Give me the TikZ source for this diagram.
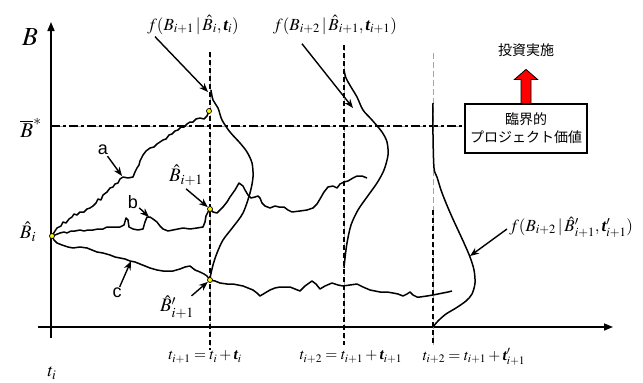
\documentclass[tikz,border=0pt]{standalone}
\usepackage{amsmath}
\usepackage{mathptmx}
\usepackage{fontspec}
\newfontfamily\jpfont{Noto Sans CJK JP}
\newfontfamily\arialfont{Liberation Sans}
\newfontfamily\timesfont{Liberation Serif}
\usetikzlibrary{arrows.meta}
\usetikzlibrary{calc}
\usetikzlibrary{positioning}

% bold "t" as printed for the time step
\newcommand{\taut}{\text{\timesfont\bfseries\itshape t}}

\tikzset{
  axis/.style={line width=1.6pt},
  walk/.style={line width=1.5pt, line join=round},
  dens/.style={line width=1.5pt, line join=round},
  pointer/.style={line width=1.4pt, -{Stealth[length=9pt,width=7pt]}},
  mlabel/.style={font=\fontsize{17}{19}\selectfont, inner sep=1pt},
  tlabel/.style={font=\fontsize{15.5}{17}\selectfont, inner sep=1pt},
  letter/.style={font=\arialfont\fontsize{18}{20}\selectfont, inner sep=1pt},
  jtext/.style={font=\jpfont\fontsize{14}{18}\selectfont},
  tline/.style={line width=2.6pt, dash pattern=on 5pt off 3pt},
  tguide/.style={line width=0.6pt, gray!70, dash pattern=on 6pt off 3pt},
  bstar/.style={line width=2.2pt, dash pattern=on 9pt off 3pt on 3pt off 3pt},
  ydot/.style={circle, draw, fill=yellow, line width=0.7pt, inner sep=0pt, minimum size=5pt},
}

\begin{document}
\begin{tikzpicture}[x=1pt, y=-1pt]
\useasboundingbox (0,0) rectangle (643,383);

% time steps and levels
\def\tA{210}
\def\tB{344}
\def\tC{433}
\def\yax{327}
\def\ybar{126}

%---------------------------------------
% Axes
%---------------------------------------
\draw[axis, -{Triangle[length=9pt,width=7pt]}] (51,338) -- (51,22);
\draw[axis, -{Triangle[length=9pt,width=7pt]}] (38,\yax) -- (613,\yax);
\node[font=\fontsize{26}{28}\selectfont] (Blab) at (30,37) {$B$};
\node[font=\fontsize{18}{20}\selectfont] (tilab) at (52,373) {$t_i$};

%---------------------------------------
% Critical value box
%---------------------------------------
\node[jtext, draw, line width=1.2pt, align=center, minimum width=122, minimum height=49,
      inner sep=2pt] (box) at (526,128.5) {臨界的\\プロジェクト価値};
\node[jtext] (invest) at (526,50) {投資実施};
\draw[fill=red, line width=0.8pt]
  ($(box.north)+(-5,0)$) -- ++(0,-24) -- ++(-6.5,0) -- ($(box.north)+(0,-34)$)
  -- ($(box.north)+(11.5,-24)$) -- ++(-6.5,0) -- ($(box.north)+(5,0)$) -- cycle;

% threshold level
\node[font=\fontsize{21}{23}\selectfont] (Bbar) at (31,128) {$\overline{B}^{*}$};
\coordinate (bstart) at (51,\ybar);
\draw[tguide] (bstart) -- (bstart -| box.west);
\draw[bstar] (bstart) -- (bstart -| box.west);

%---------------------------------------
% Time lines
%---------------------------------------
\draw[tguide] (\tA,52) -- (\tA,350);
\draw[tline]  (\tA,52) -- (\tA,350);
\draw[tguide] (\tB,45) -- (\tB,345);
\draw[tline]  (\tB,45) -- (\tB,345);
\draw[tguide] (\tC,53) -- (\tC,345);
\draw[tline]  (\tC,210) -- (\tC,345);

\node[tlabel] (t1) at (205,357) {$t_{i+1}=t_i+\taut_i$};
\node[tlabel] (t2) at (351,357) {$t_{i+2}=t_{i+1}+\taut_{i+1}$};
\node[tlabel] (t3) at (474,357) {$t_{i+2}=t_{i+1}+\taut'_{i+1}$};

%---------------------------------------
% Sample paths
%---------------------------------------
% path a
\draw[walk] plot coordinates {(52,236) (55,231) (57,228) (61,226) (63,222) (66,223) (69,219)
  (72,217) (74,214) (77,215) (80,212) (84,212) (87,209) (90,208) (93,206) (96,203) (98,199)
  (101,200) (103,195) (107,192) (110,188) (113,187) (115,184) (118,183) (120,179) (123,177)
  (128,178) (133,177) (135,172) (137,168) (139,165) (140,161) (143,155) (146,151) (150,148)
  (154,147) (157,144) (160,142) (163,140) (166,139) (169,135) (172,134) (175,131) (178,130)
  (181,127) (184,127) (187,124) (190,122) (193,122) (196,119) (200,118) (204,119) (207,116)
  (209,111)};
% path b
\draw[walk] plot coordinates {(52,236) (55,235) (60,233) (64,232) (67,233) (71,231) (75,231)
  (80,230) (84,231) (88,230) (93,230) (98,229) (103,229) (107,227) (113,227) (120,227)
  (124,225) (126,218) (128,220) (129,227) (133,229) (138,230) (143,229) (145,222) (147,217)
  (150,217) (153,219) (157,222) (160,226) (163,229) (168,231) (173,230) (178,229) (183,228)
  (190,229) (197,228) (203,227) (205,222) (206,216) (208,212) (210,209) (213,212) (217,213)
  (220,210) (223,207) (227,202) (230,197) (235,190) (239,183) (243,186) (245,190) (248,195)
  (251,198) (255,197) (258,196) (260,198) (262,203) (265,206) (270,208) (275,206) (279,207)
  (284,207) (288,210) (292,212) (300,211) (307,210) (313,208) (317,204) (320,199) (324,192)
  (328,187) (333,186) (337,188) (340,184) (344,182) (348,181) (353,178) (357,176) (362,176)
  (367,178)};
% path c
\draw[walk] plot coordinates {(52,236) (54,240) (57,243) (62,245) (68,247) (73,248) (80,247)
  (87,248) (92,250) (97,252) (103,253) (110,255) (115,257) (120,258) (125,259) (130,261)
  (135,262) (140,264) (145,266) (150,268) (157,270) (163,271) (168,271) (173,271) (180,269)
  (185,267) (190,266) (195,270) (200,272) (204,274) (207,276) (210,280) (215,281) (220,283)
  (227,284) (233,284) (238,285) (243,286) (248,288) (253,290) (257,293) (260,296) (265,293)
  (270,290) (275,288) (280,287) (285,287) (290,287) (295,289) (300,291) (305,286) (312,281)
  (316,284) (320,289) (325,286) (332,283) (338,285) (343,286) (350,285) (357,284) (363,287)
  (370,290) (375,291) (380,292) (387,292) (393,293) (398,294) (403,296) (407,294) (410,292)
  (413,295) (417,297) (420,297) (427,296) (433,295) (438,294) (443,293) (448,292) (452,291)};

%---------------------------------------
% Densities
%---------------------------------------
\draw[dens] plot[smooth, tension=0.5] coordinates {(211,90) (213,100) (218,108) (222,120)
  (230,132) (240,143) (247,152) (252,163) (253,177) (250,193) (243,213) (233,227) (223,240)
  (217,253) (213,265) (210,278)};
\draw[dens] plot[smooth, tension=0.5] coordinates {(344,70) (346,78) (351,87) (357,97)
  (363,110) (372,120) (382,132) (387,142) (388,155) (384,170) (377,183) (367,197) (358,210)
  (351,225) (347,243) (345,258) (344,268)};
\draw[dens] plot[smooth, tension=0.5] coordinates {(433,103) (433,135) (434,168) (437,177)
  (441,190) (446,203) (452,217) (458,230) (464,243) (470,257) (474,270) (475,283) (472,294)
  (466,301) (456,308) (446,314) (438,321) (433,327)};

%---------------------------------------
% States
%---------------------------------------
\node[ydot] (Bi) at (52,236) {};
\node[ydot] (Ba) at (209,111) {};
\node[ydot] (Bnext) at (210,209) {};
\node[ydot] (Bprime) at (210,280) {};

\node[font=\fontsize{19}{21}\selectfont] (Bilab) at (28,232) {$\hat{B}_i$};
\node[font=\fontsize{19}{21}\selectfont] (Bnlab) at (186,175) {$\hat{B}_{i+1}$};
\node[font=\fontsize{19}{21}\selectfont] (Bplab) at (177,307) {$\hat{B}'_{i+1}$};
\draw[pointer] (Bnlab.south) -- (Bnext);
\draw[pointer] ($(Bplab.north east)+(-6,4)$) -- (Bprime);

% path letters
\node[letter] (la) at (103,150) {a};
\node[letter] (lb) at (133,202) {b};
\node[letter] (lc) at (117,293) {c};
\coordinate (pa) at (122,176);
\coordinate (pb) at (149,217);
\coordinate (pc) at (131,261);
\draw[pointer] (la) -- (pa);
\draw[pointer] (lb) -- (pb);
\draw[pointer] (lc) -- (pc);

% density labels
\node[mlabel] (f1) at (193,25) {$f(B_{i+1}\,|\,\hat{B}_i,\taut_i)$};
\node[mlabel] (f2) at (335,25) {$f(B_{i+2}\,|\,\hat{B}_{i+1},\taut_{i+1})$};
\node[mlabel, anchor=west] (f3) at (508,227) {$f(B_{i+2}\,|\,\hat{B}'_{i+1},\taut'_{i+1})$};
\coordinate (f1tip) at (208,92);
\coordinate (f2tip) at (353,108);
\coordinate (f3tip) at (470,256);
\draw[pointer] ($(f1.south west)+(9,1)$) -- (f1tip);
\draw[pointer] ($(f2.south west)+(30,8)$) -- (f2tip);
\draw[pointer] ($(f3.west)+(-1,2)$) -- (f3tip);

\end{tikzpicture}
\end{document}
